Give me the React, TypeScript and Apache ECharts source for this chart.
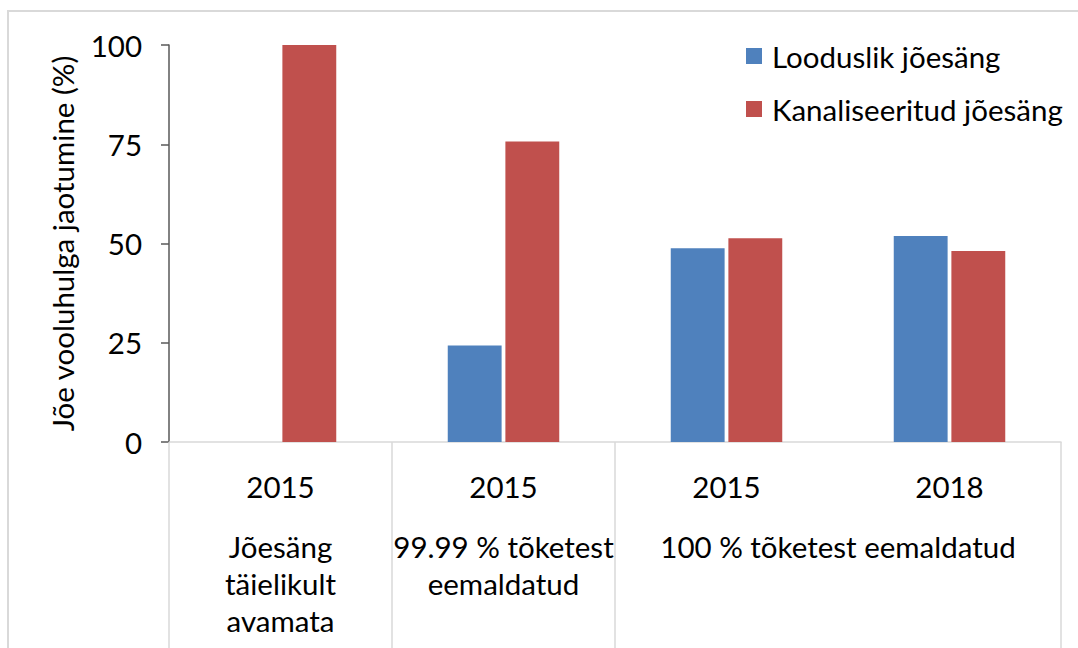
import React, { useEffect, useRef } from "react";
import * as echarts from "echarts";

const years = ["2015", "2015", "2015", "2018"];
const groupLabels = [
  "Jõesäng\ntäielikult\navamata",
  "99.99 % tõketest\neemaldatud",
  "100 % tõketest eemaldatud",
];
const groupCenters = [0.5, 1.5, 3];
const groupBoundaries = [0, 1, 2, 4];
const seriesNames = ["Looduslik jõesäng", "Kanaliseeritud jõesäng"];
const naturalValues = [0, 24.3, 48.8, 51.9];
const channelValues = [100, 75.7, 51.3, 48.1];

const FONT = "Lato";
const FS = 29.5;

export default function App() {
  const ref = useRef<HTMLDivElement>(null);
  useEffect(() => {
    if (!ref.current) return;
    const chart = echarts.init(ref.current, undefined, { renderer: "svg" });
    chart.setOption({
      animation: false,
      backgroundColor: "#ffffff",
      textStyle: { fontFamily: FONT, color: "#000" },
      grid: { left: 169, right: 17, top: 45, bottom: 206, containLabel: false },
      legend: {
        orient: "vertical",
        left: 741,
        top: 36,
        itemWidth: 16,
        itemHeight: 16,
        itemGap: 23,
        icon: "rect",
        textStyle: { fontFamily: FONT, fontSize: FS, color: "#000", padding: [0, 0, 0, 5] },
        data: seriesNames,
      },
      xAxis: [
        {
          type: "category",
          data: years,
          position: "bottom",
          axisLine: { show: true, lineStyle: { color: "#d9d9d9", width: 1.5 } },
          axisTick: { show: false },
          axisLabel: { fontSize: FS, color: "#000", margin: 29, fontFamily: FONT },
          splitLine: { show: false },
        },
        {
          type: "value",
          min: 0,
          max: 4,
          position: "bottom",
          axisLine: { show: false },
          splitLine: { show: false },
          axisTick: {
            show: true,
            inside: false,
            length: 206,
            customValues: groupBoundaries,
            lineStyle: { color: "#d9d9d9", width: 1.5 },
          },
          axisLabel: {
            customValues: groupCenters,
            formatter: (v: number) => {
              const i = groupCenters.indexOf(v);
              return i >= 0 ? groupLabels[i] : "";
            },
            fontSize: FS,
            lineHeight: 37,
            color: "#000",
            margin: 86,
            fontFamily: FONT,
          },
        },
      ],
      yAxis: {
        type: "value",
        min: 0,
        max: 100,
        interval: 25,
        name: "Jõe vooluhulga jaotumine (%)",
        nameLocation: "middle",
        nameGap: 92,
        nameTextStyle: { fontSize: FS, color: "#000", fontFamily: FONT },
        axisLine: { show: true, lineStyle: { color: "#595959", width: 1.5 } },
        axisTick: { show: true, inside: false, length: 8, lineStyle: { color: "#595959", width: 1.5 } },
        axisLabel: { fontSize: FS, color: "#000", margin: 27, fontFamily: FONT },
        splitLine: { show: false },
      },
      series: [
        {
          name: seriesNames[0],
          type: "bar",
          data: naturalValues,
          itemStyle: { color: "#4f81bd" },
          barGap: "7%",
          barCategoryGap: "50%",
        },
        {
          name: seriesNames[1],
          type: "bar",
          data: channelValues,
          itemStyle: { color: "#c0504d" },
          barGap: "7%",
          barCategoryGap: "50%",
        },
      ],
      graphic: [
        {
          type: "rect",
          shape: { x: 8, y: 11, width: 1090, height: 660 },
          style: { fill: "none", stroke: "#d9d9d9", lineWidth: 2 },
          silent: true,
          z: -1,
        },
      ],
    });
    return () => chart.dispose();
  }, []);
  return (
    <div
      ref={ref}
      style={{ position: "absolute", left: 0, top: 0, width: 1078, height: 648 }}
    />
  );
}
